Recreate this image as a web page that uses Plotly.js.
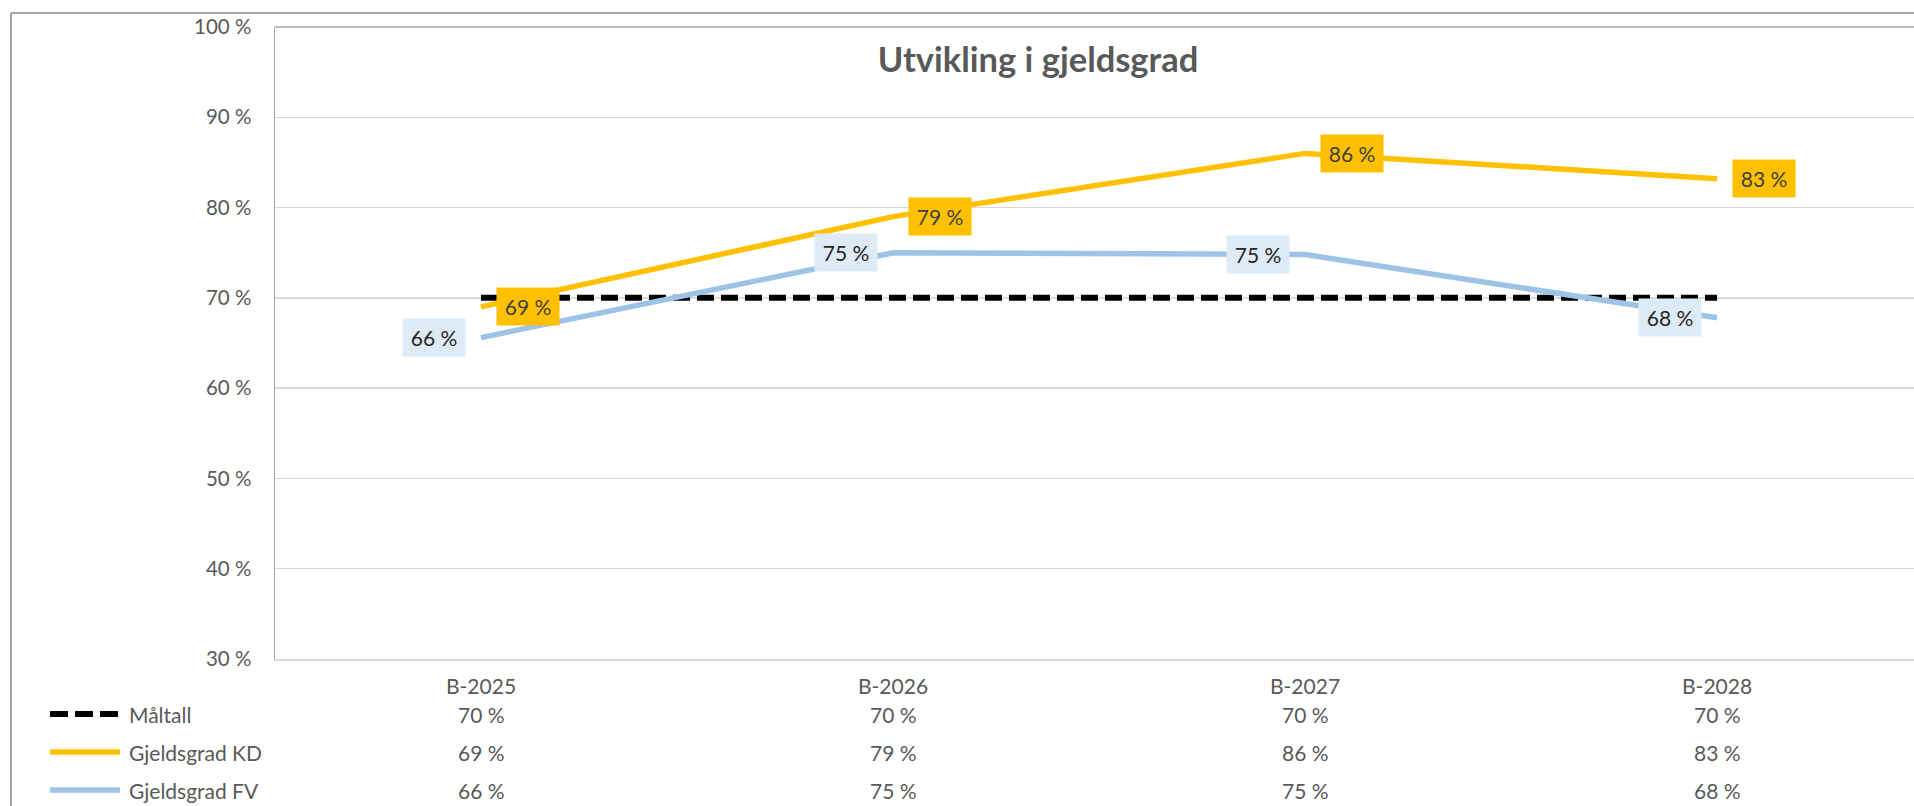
<!DOCTYPE html>
<html>
<head>
<meta charset="utf-8">
<script src="https://cdn.plot.ly/plotly-3.0.1.min.js"></script>
<style>
  html, body { margin: 0; padding: 0; background: #ffffff; }
  #chart { width: 1914px; height: 806px; }
</style>
</head>
<body>
<div id="chart"></div>
<script>
// ---- Data ----
const categories = ['B-2025', 'B-2026', 'B-2027', 'B-2028'];
const maltall = [70, 70, 70, 70];
const gjeldKD = [69.0, 79.0, 86.0, 83.2];
const gjeldFV = [65.6, 75.0, 74.8, 67.8];
const seriesNames = ['Måltall', 'Gjeldsgrad KD', 'Gjeldsgrad FV'];
const yTickVals = [30, 40, 50, 60, 70, 80, 90, 100];
const chartTitle = 'Utvikling i gjeldsgrad';

// ---- Styles ----
const FONT = 'Lato, "Open Sans", sans-serif';
const GREY = '#595959';
const C_MAL = '#000000';
const C_KD = '#FFC000';
const C_FV = '#9DC3E6';
const C_FV_BOX = '#DEEBF7';

// plot area in pixels: x 275..1914, y 27..659
const PL = 275, PR = 1914, PT = 27, PB = 659;
const px = v => (v - PL) / (PR - PL);
const py = v => (PB - v) / (PB - PT);

const fmt = v => Math.round(v) + ' %';

const traces = [
  { x: categories, y: maltall, name: seriesNames[0], type: 'scatter', mode: 'lines',
    line: { color: C_MAL, width: 6, dash: '17px,7px' }, hoverinfo: 'skip' },
  { x: categories, y: gjeldKD, name: seriesNames[1], type: 'scatter', mode: 'lines',
    line: { color: C_KD, width: 5.5 }, hoverinfo: 'skip' },
  { x: categories, y: gjeldFV, name: seriesNames[2], type: 'scatter', mode: 'lines',
    line: { color: C_FV, width: 5.5 }, hoverinfo: 'skip' }
];

const annotations = [];
// data labels
categories.forEach((c, j) => {
  annotations.push({
    xref: 'x', yref: 'y', x: c, y: gjeldKD[j], text: fmt(gjeldKD[j]),
    showarrow: false, xanchor: 'left', yanchor: 'middle', xshift: 15,
    width: 62, height: 37, borderpad: 0, bgcolor: C_KD, align: 'center', valign: 'middle',
    font: { family: FONT, size: 21, color: '#404040' }
  });
  annotations.push({
    xref: 'x', yref: 'y', x: c, y: gjeldFV[j], text: fmt(gjeldFV[j]),
    showarrow: false, xanchor: 'right', yanchor: 'middle', xshift: -15,
    width: 62, height: 37, borderpad: 0, bgcolor: C_FV_BOX, align: 'center', valign: 'middle',
    font: { family: FONT, size: 21, color: '#262626' }
  });
});

// data table
const tableRows = [maltall, gjeldKD, gjeldFV];
const rowY = [py(714), py(752), py(790)];
tableRows.forEach((vals, i) => {
  categories.forEach((c, j) => {
    annotations.push({
      xref: 'x', yref: 'paper', x: c, y: rowY[i], text: fmt(vals[j]),
      showarrow: false, xanchor: 'center', yanchor: 'middle',
      font: { family: FONT, size: 21, color: GREY }
    });
  });
  annotations.push({
    xref: 'paper', yref: 'paper', x: px(127), y: rowY[i], text: seriesNames[i],
    showarrow: false, xanchor: 'left', yanchor: 'middle',
    font: { family: FONT, size: 21, color: GREY }
  });
});

const keyColors = [C_MAL, C_KD, C_FV];
const keyDash = ['18px,7px', 'solid', 'solid'];
const shapes = [];
keyColors.forEach((col, i) => {
  shapes.push({
    type: 'line', xref: 'paper', yref: 'paper',
    x0: px(50), x1: px(120), y0: rowY[i], y1: rowY[i],
    line: { color: col, width: i === 0 ? 6 : 5.5, dash: keyDash[i] }
  });
});
// plot area top border
shapes.push({ type: 'line', xref: 'paper', yref: 'paper', x0: 0, x1: 1, y0: 1, y1: 1,
  line: { color: '#a6a6a6', width: 1.5 } });
// chart area border (left and top)
shapes.push({ type: 'line', xref: 'paper', yref: 'paper', x0: px(11), x1: px(11), y0: py(806), y1: py(13),
  line: { color: '#a6a6a6', width: 2 } });
shapes.push({ type: 'line', xref: 'paper', yref: 'paper', x0: px(11), x1: 1, y0: py(13), y1: py(13),
  line: { color: '#a6a6a6', width: 2 } });

const layout = {
  width: 1914, height: 806,
  margin: { l: PL, r: 1914 - PR, t: PT, b: 806 - PB, pad: 0 },
  paper_bgcolor: '#ffffff', plot_bgcolor: '#ffffff',
  showlegend: false,
  font: { family: FONT, color: GREY },
  title: {
    text: chartTitle,
    font: { family: FONT, size: 34.5, color: GREY, weight: 'bold' },
    xref: 'container', yref: 'container', x: 1038 / 1914, y: 1 - 60 / 806,
    xanchor: 'center', yanchor: 'middle'
  },
  xaxis: {
    type: 'category', range: [-0.5, 3.478], fixedrange: true,
    showgrid: false, zeroline: false,
    showline: true, linecolor: '#d9d9d9', linewidth: 2,
    ticks: '', ticklabelstandoff: 8,
    tickfont: { family: FONT, size: 21, color: GREY }
  },
  yaxis: {
    range: [30, 100], fixedrange: true,
    tickmode: 'array', tickvals: yTickVals, ticktext: yTickVals.map(v => v + ' %'),
    showgrid: true, gridcolor: '#d9d9d9', gridwidth: 1.5,
    zeroline: false, showline: true, linecolor: '#a6a6a6', linewidth: 1.5,
    ticks: '', ticklabelstandoff: 18,
    tickfont: { family: FONT, size: 20.5, color: GREY }
  },
  annotations: annotations,
  shapes: shapes,
  hovermode: false
};

Plotly.newPlot('chart', traces, layout, { displayModeBar: false, staticPlot: true });
</script>
</body>
</html>
